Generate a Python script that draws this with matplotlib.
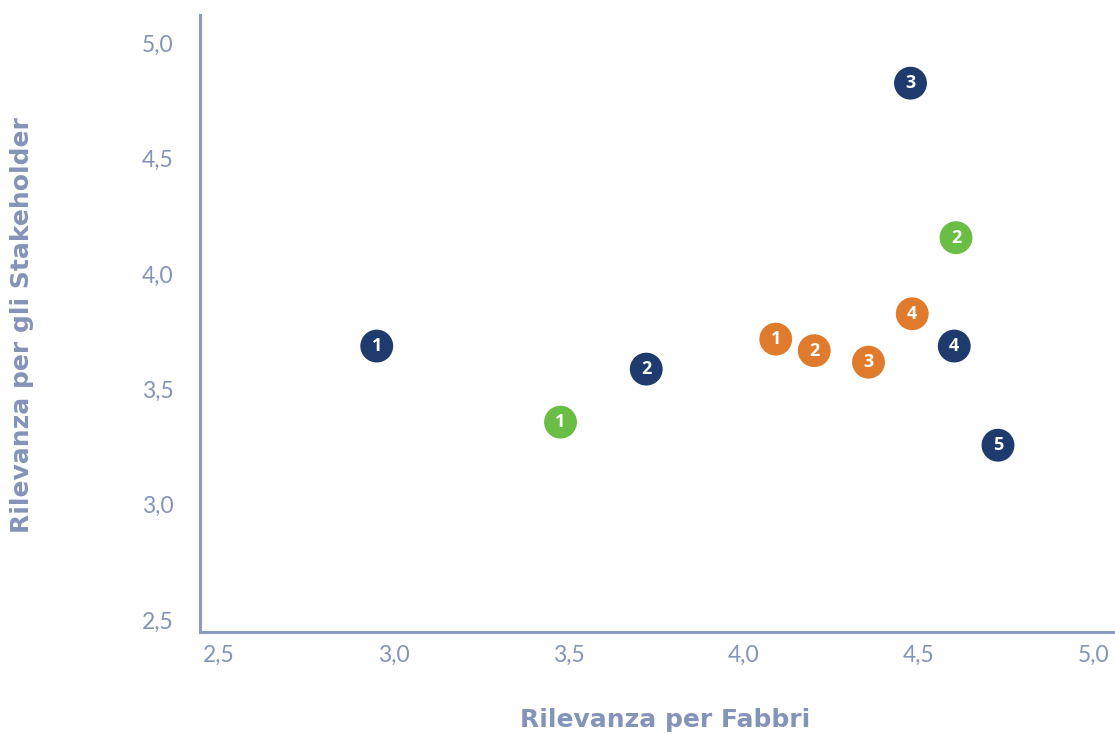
import matplotlib
matplotlib.use("Agg")
import matplotlib.pyplot as plt

# data
navy_x = [3.005, 3.775, 4.53, 4.655, 4.78]
navy_y = [3.74, 3.64, 4.88, 3.74, 3.31]
navy_lbl = ["1", "2", "3", "4", "5"]

green_x = [3.53, 4.66]
green_y = [3.41, 4.21]
green_lbl = ["1", "2"]

orange_x = [4.145, 4.255, 4.41, 4.535]
orange_y = [3.77, 3.72, 3.67, 3.88]
orange_lbl = ["1", "2", "3", "4"]

ticks = [2.5, 3.0, 3.5, 4.0, 4.5, 5.0]
tick_labels = ["2,5", "3,0", "3,5", "4,0", "4,5", "5,0"]

axis_col = "#8c9bc1"
text_col = "#8493b8"

fig = plt.figure(figsize=(11.15, 7.35), dpi=100)
ax = fig.add_axes([200 / 1115, 1 - 632 / 735, 913 / 1115, 617 / 735])
ax.set_xlim(2.5, 2.5 + 913 / 350)
ax.set_ylim(2.5, 2.5 + 617 / 230.6)

for xs, ys, lbls, col in [(navy_x, navy_y, navy_lbl, "#1f3a6c"),
                          (green_x, green_y, green_lbl, "#6abd45"),
                          (orange_x, orange_y, orange_lbl, "#e07b2e")]:
    ax.scatter(xs, ys, s=560, color=col, edgecolors="none", zorder=3)
    for x, y, t in zip(xs, ys, lbls):
        ax.text(x, y, t, color="white", fontsize=13, fontweight="bold",
                family="Open Sans", ha="center", va="center", zorder=4)

for s in ["top", "right"]:
    ax.spines[s].set_visible(False)
for s in ["left", "bottom"]:
    ax.spines[s].set_color(axis_col)
    ax.spines[s].set_linewidth(2.2)

ax.set_xticks([])
ax.set_yticks([])

# tick labels: left-aligned under x ticks, just above y ticks
for v, t in zip(ticks, tick_labels):
    ax.annotate(t, xy=(v, 0), xycoords=("data", "axes fraction"),
                xytext=(2, -9), textcoords="offset points",
                ha="left", va="top", fontsize=16.5, color=text_col,
                family="Lato", annotation_clip=False)
    ax.annotate(t, xy=(0, v), xycoords=("axes fraction", "data"),
                xytext=(-19, 2.5), textcoords="offset points",
                ha="right", va="baseline", fontsize=16.5, color=text_col,
                family="Lato", annotation_clip=False)

fig.text(665 / 1115, 1 - 720 / 735, "Rilevanza per Fabbri", ha="center", va="center",
         fontsize=18, fontweight="bold", color=text_col, family="DejaVu Sans")
fig.text(22 / 1115, 1 - 325 / 735, "Rilevanza per gli Stakeholder", ha="center", va="center",
         rotation=90, fontsize=18, fontweight="bold", color=text_col, family="DejaVu Sans")

fig.savefig("out.png", dpi=100)
